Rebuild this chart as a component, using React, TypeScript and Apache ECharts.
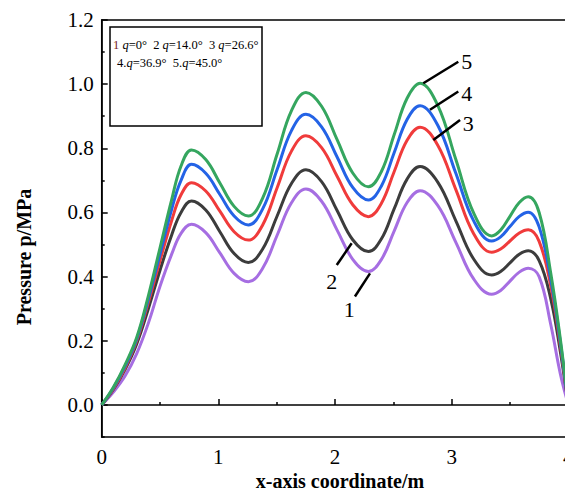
import React, { useEffect, useRef } from "react";
import * as echarts from "echarts";

// x positions along the flow path (m)
const xCoords = [
  0, 0.1, 0.2, 0.3, 0.4, 0.5, 0.6, 0.68, 0.77,
  0.892, 1.013, 1.135, 1.257,
  1.38, 1.504, 1.628, 1.751,
  1.885, 2.018, 2.152, 2.286,
  2.397, 2.507, 2.618, 2.729,
  2.882, 3.036, 3.19, 3.343,
  3.42, 3.5, 3.58, 3.657,
  3.75, 3.85, 3.93, 4.0,
];

// pressure (MPa) for each inclination angle
const p1 = [
  0, 0.04, 0.09, 0.16, 0.255, 0.37, 0.47, 0.535, 0.563,
  0.537, 0.474, 0.41, 0.384,
  0.426, 0.529, 0.631, 0.673,
  0.635, 0.545, 0.454, 0.416,
  0.453, 0.542, 0.631, 0.668,
  0.621, 0.507, 0.392, 0.345,
  0.357, 0.386, 0.414, 0.426,
  0.4, 0.25, 0.1, 0,
];
const p2 = [
  0, 0.048, 0.11, 0.19, 0.3, 0.42, 0.53, 0.6, 0.636,
  0.608, 0.54, 0.472, 0.444,
  0.486, 0.589, 0.691, 0.733,
  0.696, 0.606, 0.515, 0.478,
  0.517, 0.611, 0.704, 0.743,
  0.694, 0.574, 0.454, 0.405,
  0.416, 0.443, 0.47, 0.481,
  0.45, 0.33, 0.17, 0,
];
const p3 = [
  0, 0.05, 0.115, 0.2, 0.32, 0.45, 0.575, 0.655, 0.693,
  0.667, 0.604, 0.54, 0.514,
  0.561, 0.677, 0.792, 0.839,
  0.802, 0.713, 0.624, 0.587,
  0.628, 0.727, 0.825, 0.866,
  0.809, 0.671, 0.533, 0.476,
  0.486, 0.511, 0.536, 0.546,
  0.51, 0.37, 0.19, 0,
];
const p4 = [
  0, 0.053, 0.12, 0.205, 0.33, 0.47, 0.61, 0.7, 0.75,
  0.722, 0.656, 0.589, 0.561,
  0.611, 0.734, 0.856, 0.906,
  0.867, 0.773, 0.678, 0.639,
  0.682, 0.786, 0.89, 0.933,
  0.871, 0.722, 0.573, 0.511,
  0.524, 0.556, 0.588, 0.601,
  0.555, 0.39, 0.2, 0,
];
const p5 = [
  0, 0.055, 0.125, 0.21, 0.34, 0.49, 0.64, 0.745, 0.795,
  0.765, 0.692, 0.619, 0.589,
  0.645, 0.782, 0.918, 0.974,
  0.931, 0.827, 0.723, 0.68,
  0.727, 0.842, 0.956, 1.003,
  0.933, 0.765, 0.597, 0.527,
  0.545, 0.588, 0.631, 0.649,
  0.6, 0.41, 0.21, 0,
];

const seriesValues = [p1, p2, p3, p4, p5];
const seriesNames = ["1", "2", "3", "4", "5"];
const seriesColors = ["#a66ee2", "#3c3c3c", "#f03b3b", "#2463e6", "#35a65f"];

const yMajor = [0, 0.2, 0.4, 0.6, 0.8, 1.0, 1.2];
const yMinor = [-0.1, 0.1, 0.3, 0.5, 0.7, 0.9, 1.1];

// curve tags: [line start x, y, line end x, y, text x, y]
const tags: [string, number[]][] = [
  ["5", [2.757, 1.003, 3.057, 1.07, 3.13, 1.07]],
  ["4", [2.814, 0.92, 3.057, 0.977, 3.13, 0.972]],
  ["3", [2.843, 0.826, 3.072, 0.888, 3.143, 0.878]],
  ["2", [2.143, 0.504, 2.015, 0.436, 1.972, 0.384]],
  ["1", [2.3, 0.41, 2.171, 0.338, 2.123, 0.296]],
];

const serif = "'Liberation Serif', 'Times New Roman', serif";

export default function App() {
  const ref = useRef<HTMLDivElement>(null);

  useEffect(() => {
    if (!ref.current) return;
    const chart = echarts.init(ref.current, undefined, { renderer: "svg" });

    const axisLine = { show: true, lineStyle: { color: "#000", width: 1.5 } };

    chart.setOption({
      animation: false,
      backgroundColor: "#fff",
      grid: {
        left: 101.7,
        right: 1.7,
        top: 20,
        bottom: 57,
        show: true,
        borderColor: "#000",
        borderWidth: 1.5,
        backgroundColor: "transparent",
        outerBoundsMode: "none",
        containLabel: false,
      },
      xAxis: {
        type: "value",
        min: 0,
        max: 4,
        interval: 1,
        axisLine,
        axisTick: { show: true, inside: true, length: 6, lineStyle: { color: "#000", width: 1.5 } },
        minorTick: { show: true, splitNumber: 2, length: 3, lineStyle: { color: "#000", width: 1.5 } },
        splitLine: { show: false },
        axisLabel: { color: "#000", fontFamily: serif, fontSize: 21, margin: 9 },
      },
      yAxis: [
        {
          type: "value",
          min: -0.1,
          max: 1.2,
          axisLine,
          axisTick: {
            show: true,
            inside: true,
            length: 6,
            customValues: yMajor,
            lineStyle: { color: "#000", width: 1.5 },
          },
          splitLine: { show: false },
          axisLabel: {
            color: "#000",
            fontFamily: serif,
            fontSize: 21,
            margin: 8,
            customValues: yMajor,
            formatter: (v: number) => v.toFixed(1),
          },
        },
        {
          type: "value",
          position: "left",
          min: -0.1,
          max: 1.2,
          axisLine: { show: false },
          axisTick: {
            show: true,
            inside: true,
            length: 3,
            customValues: yMinor,
            lineStyle: { color: "#000", width: 1.5 },
          },
          axisLabel: { show: false },
          splitLine: { show: false },
        },
      ],
      series: seriesValues.map((vals, i) => ({
        name: seriesNames[i],
        type: "line",
        smooth: 0.4,
        showSymbol: false,
        symbol: "none",
        data: xCoords.map((x, k) => [x, vals[k]]),
        lineStyle: { color: seriesColors[i], width: 3 },
        z: 2 + i,
      })),
    });

    const px = (x: number, y: number) => chart.convertToPixel({ xAxisIndex: 0, yAxisIndex: 0 }, [x, y]) as number[];

    const tagGraphics: any[] = [];
    tags.forEach(([label, c]) => {
      const a = px(c[0], c[1]);
      const b = px(c[2], c[3]);
      const t = px(c[4], c[5]);
      tagGraphics.push({
        type: "line",
        shape: { x1: a[0], y1: a[1], x2: b[0], y2: b[1] },
        style: { stroke: "#000", lineWidth: 2.5 },
        z: 20,
      });
      tagGraphics.push({
        type: "text",
        x: t[0],
        y: t[1],
        style: { text: label, fill: "#000", font: `22px ${serif}`, align: "center", verticalAlign: "middle" },
        z: 20,
      });
    });

    const legendRich = {
      n: { fontFamily: serif, fontSize: 12.5, fill: "#000" },
      r: { fontFamily: serif, fontSize: 12.5, fill: "#7a1c1c" },
      q: { fontFamily: serif, fontSize: 12.5, fontStyle: "italic", fill: "#000" },
    };

    chart.setOption({
      graphic: [
        ...tagGraphics,
        {
          type: "rect",
          shape: { x: 110, y: 27, width: 152, height: 99 },
          style: { fill: "#fff", stroke: "#000", lineWidth: 1.5 },
          z: 30,
        },
        {
          type: "text",
          x: 113,
          y: 45,
          style: {
            text: "{r|1 }{q|q}{n|=0°  2 }{q|q}{n|=14.0°  3 }{q|q}{n|=26.6°}",
            rich: legendRich,
            verticalAlign: "middle",
          },
          z: 31,
        },
        {
          type: "text",
          x: 117,
          y: 63,
          style: {
            text: "{n|4.}{q|q}{n|=36.9°  5.}{q|q}{n|=45.0°}",
            rich: legendRich,
            verticalAlign: "middle",
          },
          z: 31,
        },
        {
          type: "text",
          x: 24,
          y: 257,
          rotation: Math.PI / 2,
          style: {
            text: "Pressure p/MPa",
            fill: "#000",
            font: `bold 20px ${serif}`,
            align: "center",
            verticalAlign: "middle",
          },
          z: 10,
        },
        {
          type: "text",
          x: 340,
          y: 481,
          style: {
            text: "x-axis coordinate/m",
            fill: "#000",
            font: `bold 20px ${serif}`,
            align: "center",
            verticalAlign: "middle",
          },
          z: 10,
        },
      ],
    });

    return () => chart.dispose();
  }, []);

  return (
    <div style={{ position: "fixed", left: 0, top: 0, width: 565, height: 494, overflow: "hidden", background: "#fff" }}>
      <div ref={ref} style={{ width: 570, height: 494 }} />
    </div>
  );
}
